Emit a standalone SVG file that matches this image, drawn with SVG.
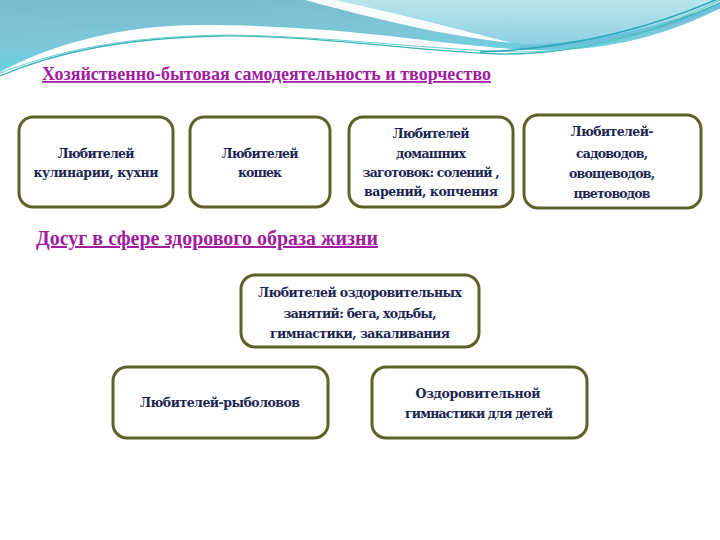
<svg xmlns="http://www.w3.org/2000/svg" width="720" height="540" viewBox="0 0 720 540">
<defs>
<linearGradient id="gBlue" x1="0" y1="0" x2="0.3" y2="1">
<stop offset="0" stop-color="#7bb8cf"/>
<stop offset="0.6" stop-color="#7cc8da"/>
<stop offset="1" stop-color="#5fd3e2"/>
</linearGradient>
<linearGradient id="gLight" x1="0" y1="0" x2="0" y2="1">
<stop offset="0" stop-color="#b8e5eb"/>
<stop offset="1" stop-color="#8fd0e6"/>
</linearGradient>
<style>
.box{fill:#ffffff;stroke:#5e6229;stroke-width:3}
.t{font-family:"DejaVu Serif","Liberation Serif",serif;font-weight:bold;font-size:12.5px;fill:#1c2552;text-anchor:middle}
.h{font-family:"Liberation Serif","Times New Roman",serif;font-weight:bold;fill:#a01ca0;text-decoration:underline}
</style>
</defs>
<rect width="720" height="540" fill="#ffffff"/>
<g id="header">
<path d="M0,0 H720 V8 C680,30 620,48 560,50 C520,51 490,47 470,45 C400,38 320,25 200,25 C120,25 50,45 0,72 Z" fill="url(#gBlue)"/>
<path d="M330,0 H720 V4 C680,24 630,40 560,44 C520,46 480,40 440,30 C400,18 370,8 330,0 Z" fill="url(#gLight)"/>
<path d="M305,0 L335,0 C400,14 460,30 512,43 C440,35 380,20 305,0 Z" fill="#ffffff" opacity="0.95"/>
<path d="M520,48 C610,44 680,22 720,6" fill="none" stroke="#6cc0dc" stroke-width="5"/>
<path d="M0,76 C60,50 130,38 220,36 C320,35 420,52 500,54 C580,55 660,30 720,3" fill="none" stroke="#3bb5b8" stroke-width="1.3"/>
<path d="M0,73 C70,46 140,36 230,35 C330,36 430,50 520,52 C600,52 670,24 720,0" fill="none" stroke="#66cccc" stroke-width="1"/>
<path d="M480,52 C590,48 670,20 720,-2" fill="none" stroke="#2aa6b6" stroke-width="1.5"/>
</g>
<text class="h" x="42" y="80" font-size="18" textLength="449" lengthAdjust="spacingAndGlyphs">Хозяйственно-бытовая самодеятельность и творчество</text>
<text class="h" x="36" y="245" font-size="20" textLength="342" lengthAdjust="spacingAndGlyphs">Досуг в сфере здорового образа жизни</text>
<g id="connectors"></g>
<g id="n1">
<rect class="box" x="19" y="117" width="154" height="90" rx="14"/>
<text class="t" x="96" y="158" textLength="77">Любителей</text>
<text class="t" x="96" y="177" textLength="125">кулинарии, кухни</text>
</g>
<g id="n2">
<rect class="box" x="190" y="117" width="140" height="90" rx="14"/>
<text class="t" x="260" y="158" textLength="77">Любителей</text>
<text class="t" x="260" y="177" textLength="44">кошек</text>
</g>
<g id="n3">
<rect class="box" x="349" y="117" width="164" height="90" rx="14"/>
<text class="t" x="431" y="138" textLength="77">Любителей</text>
<text class="t" x="431" y="158" textLength="70">домашних</text>
<text class="t" x="431" y="177" textLength="137">заготовок: солений ,</text>
<text class="t" x="431" y="196" textLength="134">варений, копчения</text>
</g>
<g id="n4">
<rect class="box" x="524" y="115" width="177" height="93" rx="14"/>
<text class="t" x="612" y="136" textLength="83">Любителей-</text>
<text class="t" x="612" y="158" font-size="14" textLength="72">садоводов,</text>
<text class="t" x="612" y="178" textLength="86">овощеводов,</text>
<text class="t" x="612" y="198" textLength="77">цветоводов</text>
</g>
<g id="n5">
<rect class="box" x="241" y="275" width="238" height="72" rx="14"/>
<text class="t" x="360" y="297" textLength="204">Любителей оздоровительных</text>
<text class="t" x="360" y="318" textLength="153">занятий: бега, ходьбы,</text>
<text class="t" x="360" y="338" textLength="180">гимнастики, закаливания</text>
</g>
<g id="n6">
<rect class="box" x="113" y="367" width="215" height="71" rx="14"/>
<text class="t" x="220" y="407" textLength="160">Любителей-рыболовов</text>
</g>
<g id="n7">
<rect class="box" x="372" y="367" width="215" height="71" rx="14"/>
<text class="t" x="478" y="398" textLength="125">Оздоровительной</text>
<text class="t" x="479" y="418" textLength="148">гимнастики для детей</text>
</g>
</svg>
